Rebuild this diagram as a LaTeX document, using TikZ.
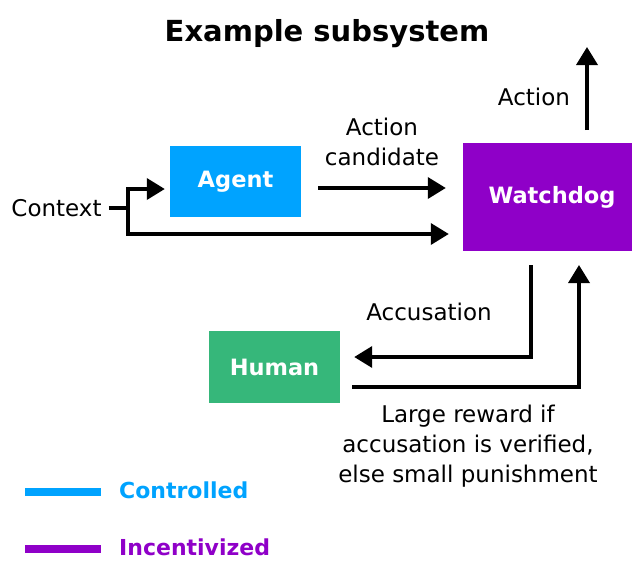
\documentclass[tikz,border=0pt]{standalone}
\usepackage{fontspec}
\setmainfont{DejaVu Sans}
\usetikzlibrary{arrows.meta}
\definecolor{ctrlblue}{RGB}{0,163,255}
\definecolor{incpurple}{RGB}{143,0,200}
\definecolor{humgreen}{RGB}{54,183,122}
\begin{document}
\begin{tikzpicture}[x=1pt,y=-1pt,
  box/.style={rectangle, draw=none, text=white, font=\fontsize{22.5}{26}\selectfont\bfseries, inner sep=0pt},
  lbl/.style={font=\fontsize{23}{30}\selectfont, align=center, inner sep=0pt},
  conn/.style={line width=3.6pt, line join=miter},
  arr/.style={conn, -{Triangle[length=18pt,width=21pt]}},
  legline/.style={line width=8pt},
  legtext/.style={font=\fontsize{22}{26}\selectfont\bfseries, anchor=west, inner sep=0pt}]
\useasboundingbox (0,0) rectangle (632,560);
% title
\node[font=\fontsize{29}{34}\selectfont\bfseries, inner sep=0pt] (title) at (327,34) {Example subsystem};
% boxes
\node[box, fill=ctrlblue, minimum width=131pt, minimum height=71pt] (agent) at (235.5,181.5) {Agent};
\node[box, fill=incpurple, minimum width=178pt, minimum height=108pt] (watchdog) at (552,197) {Watchdog};
\node[box, fill=humgreen, minimum width=131pt, minimum height=72pt] (human) at (274.5,367) {Human};
% labels
\node[lbl] (context) at (56.5,208) {Context};
\node[lbl] (actcand) at (382,142) {Action\\candidate};
\node[lbl] (action) at (534,97) {Action};
\node[lbl] (accus) at (429,312) {Accusation};
\node[lbl] (reward) at (468,446) {Large reward if\\accusation is verified,\\else small punishment};
% connector coordinates
\coordinate (cstart) at ([xshift=7pt]context.east);
\coordinate (jmid) at (128,208);
\coordinate (jtop) at (128,189);
\coordinate (jbot) at (128,234);
\coordinate (agentin) at ([xshift=-5pt]agent.west |- jtop);
\coordinate (wdin2) at ([xshift=-14pt]watchdog.west |- jbot);
\coordinate (agentout) at ([xshift=17pt]agent.east |- 0,188);
\coordinate (wdin1) at ([xshift=-17pt]watchdog.west |- 0,188);
\coordinate (actout) at (587,130);
\coordinate (acttip) at (587,47);
\coordinate (accstart) at (531,265);
\coordinate (acccorner) at (531,357);
\coordinate (hummid) at ([xshift=14pt]human.east |- acccorner);
\coordinate (rewstart) at ([xshift=12pt]human.east |- 0,387);
\coordinate (rewcorner) at (579,387);
\coordinate (rewtip) at (579,265);
% connectors
\draw[conn] (cstart) -- (jmid);
\draw[arr] (jbot) -- (jtop) -- (agentin);
\draw[arr] (jtop) -- (jbot) -- (wdin2);
\draw[arr] (agentout) -- (wdin1);
\draw[arr] (actout) -- (acttip);
\draw[arr] (accstart) -- (acccorner) -- (hummid);
\draw[arr] (rewstart) -- (rewcorner) -- (rewtip);
% legend
\coordinate (l1a) at (25,492);
\coordinate (l1b) at (101,492);
\coordinate (l2a) at (25,549);
\coordinate (l2b) at (101,549);
\draw[legline, ctrlblue] (l1a) -- (l1b);
\draw[legline, incpurple] (l2a) -- (l2b);
\node[legtext, text=ctrlblue] (legc) at (119,490) {Controlled};
\node[legtext, text=incpurple] (legi) at (119,547) {Incentivized};
\end{tikzpicture}
\end{document}
